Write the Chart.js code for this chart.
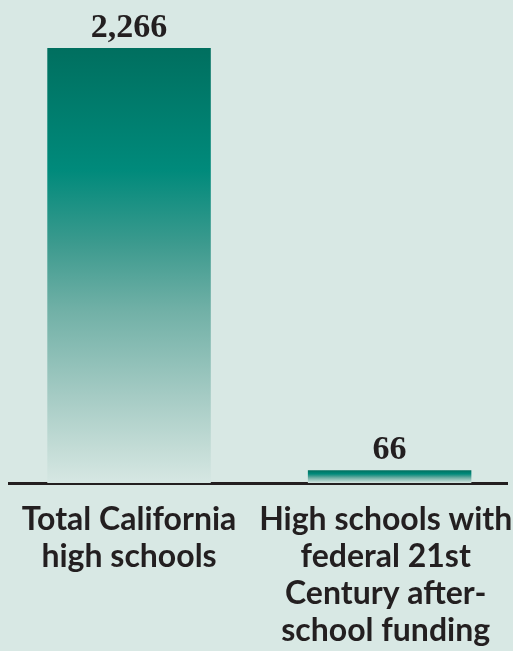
<!DOCTYPE html>
<html>
<head>
<meta charset="utf-8">
<script src="https://cdn.jsdelivr.net/npm/chart.js@4/dist/chart.umd.min.js"></script>
<style>
  html, body { margin: 0; padding: 0; background: #d8e8e4; }
  #wrap { width: 513px; height: 651px; position: relative; }
</style>
</head>
<body>
<div id="wrap"><canvas id="schools-chart"></canvas></div>
<script>
const CATEGORIES = [
  ['Total California', 'high schools'],
  ['High schools with', 'federal 21st', 'Century after-', 'school funding'],
];
const SCHOOL_COUNTS = [2266, 66];
// where each category label sits on the x axis (second one pulled in a touch from the page edge)
const LABEL_POS = [0, 0.985];

const BG = '#d8e8e4';
const INK = '#231f20';

// dark teal at the top of each bar, fading into the page colour at the base
function barGradient(ctx) {
  const chart = ctx.chart;
  if (!chart.chartArea) return null;
  const y = chart.scales.y;
  const top = y.getPixelForValue(ctx.raw.y);
  const base = y.getPixelForValue(0);
  const g = chart.ctx.createLinearGradient(0, top, 0, base);
  g.addColorStop(0, '#006f5f');
  g.addColorStop(0.28, '#008a7b');
  g.addColorStop(0.45, '#3c9a8e');
  g.addColorStop(0.6, '#70b0a6');
  g.addColorStop(0.8, '#a5cbc4');
  g.addColorStop(0.92, '#c3dcd6');
  g.addColorStop(1, '#d6e7e3');
  return g;
}

const valueLabels = {
  id: 'valueLabels',
  afterDatasetsDraw(chart) {
    const c = chart.ctx;
    const meta = chart.getDatasetMeta(0);
    c.save();
    c.font = 'bold 34px "Liberation Serif", serif';
    c.fillStyle = INK;
    c.textAlign = 'center';
    c.textBaseline = 'alphabetic';
    meta.data.forEach((bar, i) => {
      c.fillText(SCHOOL_COUNTS[i].toLocaleString('en-US'), bar.x, bar.y - 11);
    });
    c.restore();
  }
};

const pageBg = {
  id: 'pageBg',
  beforeDraw(chart) {
    const c = chart.ctx;
    c.save();
    c.fillStyle = BG;
    c.fillRect(0, 0, chart.width, chart.height);
    c.restore();
  }
};

new Chart(document.getElementById('schools-chart'), {
  type: 'bar',
  data: {
    datasets: [{
      data: CATEGORIES.map((c, i) => ({ x: i, y: SCHOOL_COUNTS[i] })),
      backgroundColor: barGradient,
      borderWidth: 0,
      barPercentage: 0.637,
      categoryPercentage: 1,
    }],
  },
  options: {
    responsive: true,
    maintainAspectRatio: false,
    animation: false,
    layout: { padding: { top: 48, left: 9, right: 6, bottom: 0 } },
    plugins: { legend: { display: false }, tooltip: { enabled: false } },
    scales: {
      x: {
        type: 'linear',
        offset: false,
        min: -0.4607,
        max: 1.4505,
        grid: { display: false, drawTicks: false, offset: false },
        border: { display: true, color: INK, width: 3 },
        afterBuildTicks: s => { s.ticks = LABEL_POS.map(v => ({ value: v })); },
        afterFit: s => { s.height = 168; s.paddingLeft = 0; s.paddingRight = 0; },
        ticks: {
          autoSkip: false,
          maxRotation: 0,
          padding: 18,
          color: INK,
          font: { family: 'Lato', weight: 'bold', size: 32, lineHeight: 37 / 32 },
          callback: (v, i) => CATEGORIES[i],
        },
      },
      y: {
        display: false,
        min: 0,
        max: 2266,
      },
    },
  },
  plugins: [pageBg, valueLabels],
});
</script>
</body>
</html>
